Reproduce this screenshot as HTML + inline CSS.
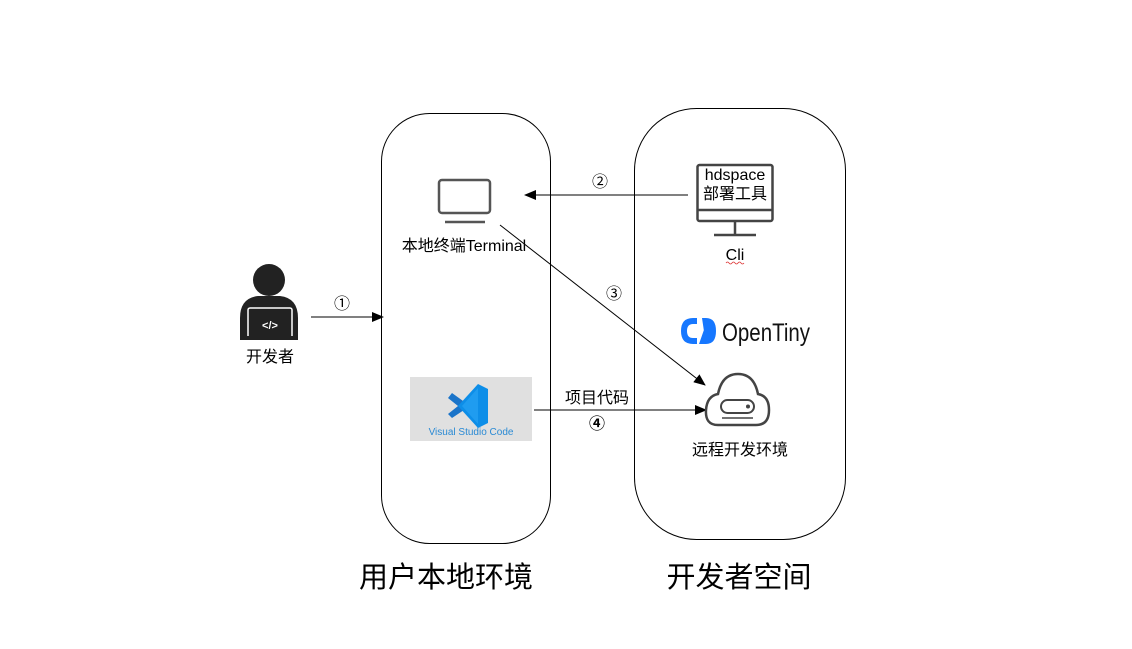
<!DOCTYPE html>
<html><head><meta charset="utf-8"><style>
body{margin:0;background:#fff;}
svg{display:block;font-family:"Liberation Sans","Noto Sans CJK SC",sans-serif;}
</style></head><body>
<svg width="1132" height="649" viewBox="0 0 1132 649" xmlns="http://www.w3.org/2000/svg">
<defs>
<marker id="ar" markerWidth="12" markerHeight="10" refX="11" refY="5" orient="auto" markerUnits="userSpaceOnUse">
<path d="M0,0 L12,5 L0,10 Z" fill="#000"/></marker>
</defs>
<rect x="381.5" y="113.5" width="169" height="430" rx="48" fill="none" stroke="#000" stroke-width="1"/>
<rect x="634.5" y="108.5" width="211" height="431" rx="62" fill="none" stroke="#000" stroke-width="1"/>

<!-- terminal -->
<rect x="439" y="180" width="51" height="33" rx="3" fill="none" stroke="#555" stroke-width="2.5"/>
<line x1="445" y1="222" x2="485" y2="222" stroke="#555" stroke-width="2.5"/>
<text x="464" y="251" font-size="16" text-anchor="middle" fill="#000">本地终端Terminal</text>

<!-- person -->
<circle cx="269" cy="280" r="16" fill="#222"/>
<path d="M240,336 L240,318 Q240,298 258,296 L280,296 Q298,298 298,318 L298,336 Z" fill="#222"/>
<rect x="248" y="308" width="44" height="30" rx="2" fill="#222" stroke="#fff" stroke-width="1.5"/>
<rect x="240" y="336" width="58" height="4" fill="#222"/>
<text x="270" y="329" font-size="11" fill="#fff" text-anchor="middle" font-weight="bold">&lt;/&gt;</text>
<text x="270" y="362" font-size="16" text-anchor="middle">开发者</text>

<!-- arrow 1 -->
<line x1="311" y1="317" x2="383" y2="317" stroke="#000" marker-end="url(#ar)"/>
<text x="342" y="309" font-size="16" text-anchor="middle">①</text>

<!-- vscode -->
<rect x="410" y="377" width="122" height="64" fill="#e0e0e0"/>
<path d="M448,398 L458,406 L448,414 L452,418 L470,406 L452,393 Z" fill="#1b74c9"/>
<path d="M478,384 L488,389 L488,423 L478,428 L458,406 Z" fill="#0d8ee8"/>
<path d="M478,388 L478,424 L462,406 Z" fill="#1f9cf0"/>
<text x="471" y="435" font-size="10" fill="#2a8ad4" text-anchor="middle">Visual Studio Code</text>

<!-- arrow 2 -->
<line x1="688" y1="195" x2="525" y2="195" stroke="#000" marker-end="url(#ar)"/>
<text x="600" y="187" font-size="16" text-anchor="middle">②</text>

<!-- arrow 3 -->
<line x1="500" y1="225" x2="705" y2="385" stroke="#000" marker-end="url(#ar)"/>
<text x="614" y="299" font-size="16" text-anchor="middle">③</text>

<!-- arrow 4 -->
<line x1="534" y1="410" x2="706" y2="410" stroke="#000" marker-end="url(#ar)"/>
<text x="597" y="403" font-size="16" text-anchor="middle">项目代码</text>
<text x="597" y="429" font-size="16" text-anchor="middle" font-weight="bold">④</text>

<!-- cli monitor -->
<rect x="697.5" y="165" width="75" height="56" rx="2" fill="none" stroke="#444" stroke-width="2.5"/>
<line x1="697" y1="210" x2="772" y2="210" stroke="#444" stroke-width="2.5"/>
<line x1="735" y1="221" x2="735" y2="235" stroke="#444" stroke-width="2.5"/>
<line x1="714" y1="235" x2="756" y2="235" stroke="#444" stroke-width="2.5"/>
<text x="735" y="180" font-size="16" text-anchor="middle">hdspace</text>
<text x="735" y="199" font-size="16" text-anchor="middle">部署工具</text>
<text x="735" y="260" font-size="16" text-anchor="middle">Cli</text>
<path d="M726,263 q1.5,-2 3,0 t3,0 t3,0 t3,0 t3,0 t3,0" fill="none" stroke="#d33" stroke-width="0.8"/>

<!-- opentiny -->
<path d="M693,318 Q681,318 681,331 Q681,344 693,344 L697,344 L697,338 L693,338 Q687,338 687,331 Q687,324 693,324 L697,324 L697,318 Z" fill="#1677ff"/>
<path d="M702,318 L706,318 Q716,318 716,331 Q716,344 706,344 L699,344 L706,324 Q710,326 710,331 Q710,338 705,338 Z" fill="#1677ff"/>
<text x="722" y="341" font-size="25" fill="#111" textLength="88" lengthAdjust="spacingAndGlyphs">OpenTiny</text>

<!-- cloud -->
<path d="M718,425 Q705,425 706,410 Q707,396 718,394 Q722,374 738,374 Q754,374 758,394 Q769,396 769,410 Q769,425 756,425 Z" fill="none" stroke="#444" stroke-width="2.5"/>
<rect x="721" y="400" width="33" height="13" rx="6.5" fill="none" stroke="#444" stroke-width="2"/>
<circle cx="748" cy="406.5" r="2" fill="#444"/>
<line x1="722" y1="418" x2="753" y2="418" stroke="#444" stroke-width="1.5"/>
<text x="740" y="455" font-size="16" text-anchor="middle">远程开发环境</text>

<!-- bottom labels -->
<text x="446" y="587" font-size="29" text-anchor="middle">用户本地环境</text>
<text x="739" y="587" font-size="29" text-anchor="middle">开发者空间</text>
</svg>
</body></html>
